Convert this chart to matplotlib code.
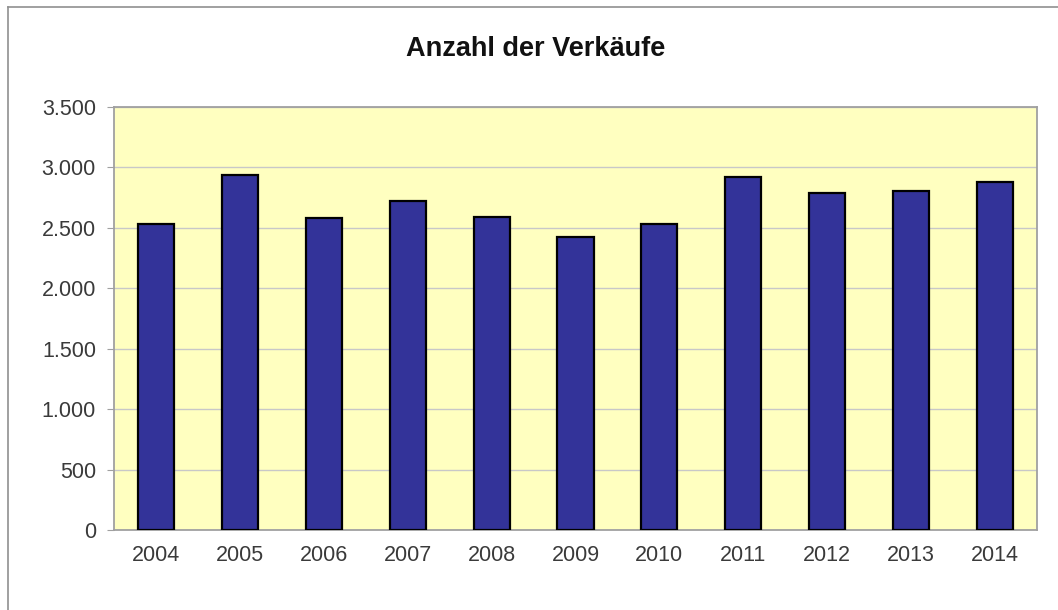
import matplotlib
matplotlib.use("Agg")
import matplotlib.pyplot as plt
from matplotlib.lines import Line2D
from matplotlib.ticker import FuncFormatter

years = ["2004", "2005", "2006", "2007", "2008", "2009", "2010", "2011", "2012", "2013", "2014"]
sales = [2530, 2937, 2580, 2723, 2588, 2426, 2530, 2918, 2789, 2805, 2880]
yticks = [0, 500, 1000, 1500, 2000, 2500, 3000, 3500]

plt.rcParams['font.family'] = ['Liberation Sans', 'DejaVu Sans']

fig = plt.figure(figsize=(10.58, 6.10), dpi=100)
fig.patch.set_facecolor('white')
ax = fig.add_axes([114/1058, 80/610, (1037-114)/1058, (530-107)/610])
ax.set_facecolor('#FFFFC0')

x = list(range(len(years)))
ax.bar(x, sales, width=0.43, color='#333399', edgecolor='black', linewidth=1.6, zorder=3)

ax.set_xlim(-0.5, len(years) - 0.5)
ax.set_ylim(0, 3500)
ax.set_yticks(yticks)
ax.yaxis.set_major_formatter(FuncFormatter(lambda v, p: f"{int(v):,}".replace(",", ".")))
ax.set_xticks(x)
ax.set_xticklabels(years)
ax.grid(axis='y', color='#c8c8c8', linewidth=1.0, zorder=0)
ax.set_axisbelow(True)

for s in ax.spines.values():
    s.set_color('#a0a0a0')
    s.set_linewidth(1.3)

ax.tick_params(axis='y', length=5, color='#a0a0a0', labelsize=15.5, labelcolor='#3a3a3a', pad=8)
ax.tick_params(axis='x', length=0, labelsize=15.5, labelcolor='#3a3a3a', pad=11)

fig.text(536/1058, 1 - 49/610, "Anzahl der Verkäufe", ha='center', va='center',
         fontsize=19.5, fontweight='bold', color='#111111')

# outer chart frame (left and top edges visible)
fig.add_artist(Line2D([8/1058, 8/1058], [0, 1 - 7/610], transform=fig.transFigure, color='#909090', linewidth=1.2))
fig.add_artist(Line2D([8/1058, 1], [1 - 7/610, 1 - 7/610], transform=fig.transFigure, color='#909090', linewidth=1.2))

fig.savefig("out.png", dpi=100)
